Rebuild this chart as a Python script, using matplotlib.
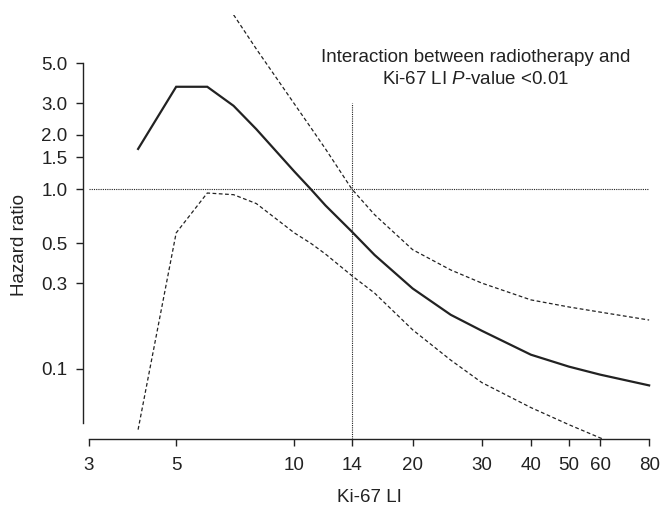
import numpy as np
import matplotlib
matplotlib.use("Agg")
import matplotlib.pyplot as plt

plt.rcParams['font.family'] = ['Liberation Sans', 'DejaVu Sans']
plt.rcParams['mathtext.fontset'] = 'custom'
plt.rcParams['mathtext.it'] = 'Liberation Sans:italic'
plt.rcParams['mathtext.rm'] = 'Liberation Sans'

# Ki-67 LI values and hazard ratio with 95% CI
ki67 = [4, 5, 6, 7, 8, 10, 11, 12, 14, 16, 20, 25, 30, 40, 50, 60, 80]
hr = [1.67, 3.7, 3.7, 2.9, 2.15, 1.25, 1.0, 0.81, 0.58, 0.43, 0.28, 0.2,
      0.163, 0.12, 0.103, 0.093, 0.081]
upper = [np.nan, np.nan, np.nan, 9.3, 6.0, 2.97, 2.2, 1.67, 1.0, 0.72, 0.46,
         0.355, 0.30, 0.242, 0.221, 0.207, 0.187]
lower = [0.046, 0.57, 0.95, 0.93, 0.83, 0.57, 0.5, 0.435, 0.33, 0.264, 0.165,
         0.112, 0.084, 0.061, 0.049, 0.0414, 0.032]

xticks = [3, 5, 10, 14, 20, 30, 40, 50, 60, 80]
yticks = [0.1, 0.3, 0.5, 1.0, 1.5, 2.0, 3.0, 5.0]
ytick_labels = ["0.1", "0.3", "0.5", "1.0", "1.5", "2.0", "3.0", "5.0"]

ink = "#222222"
fs = 13.5

fig = plt.figure(figsize=(6.61, 5.05), dpi=100)
ax = fig.add_axes([83 / 661, 66 / 505, 572 / 661, 424 / 505])
ax.set_xscale("log")
ax.set_yscale("log")
ax.set_xlim(2.896, 82.8)
ax.set_ylim(0.0408, 9.27)

ax.plot(ki67, hr, color=ink, lw=1.6, solid_joinstyle="miter")
ax.plot(ki67, upper, color=ink, lw=0.9, dashes=(3, 2))
ax.plot(ki67, lower, color=ink, lw=0.9, dashes=(3, 2))

# reference lines
ax.plot([3, 80], [1.0, 1.0], color=ink, lw=0.8, dashes=(1, 1))
ax.plot([14, 14], [0.0408, 3.0], color=ink, lw=0.8, dashes=(1, 1))

ax.set_xticks(xticks)
ax.set_xticklabels([str(t) for t in xticks])
ax.set_yticks(yticks)
ax.set_yticklabels(ytick_labels)
ax.minorticks_off()
ax.tick_params(axis="both", direction="out", length=5, width=1, colors=ink,
               labelsize=fs, labelcolor=ink)
ax.tick_params(axis="x", pad=8)
ax.tick_params(axis="y", pad=6)

for side in ("top", "right"):
    ax.spines[side].set_visible(False)
ax.spines["left"].set_bounds(0.05, 5.0)
ax.spines["bottom"].set_bounds(3, 80)
for side in ("left", "bottom"):
    ax.spines[side].set_color(ink)
    ax.spines[side].set_linewidth(1)

fig.text(476 / 661, 1 - 57 / 505, "Interaction between radiotherapy and",
         ha="center", va="center", fontsize=fs, color=ink)
fig.text(476 / 661, 1 - 79 / 505, r"Ki-67 LI $\it{P}$-value <0.01",
         ha="center", va="center", fontsize=fs, color=ink)

fig.text(369 / 661, 1 - 497 / 505, "Ki-67 LI", ha="center", va="center",
         fontsize=fs, color=ink)
fig.text(20 / 661, 1 - 245 / 505, "Hazard ratio", ha="center", va="center",
         rotation=90, fontsize=fs, color=ink)

fig.savefig("out.png", dpi=100)
